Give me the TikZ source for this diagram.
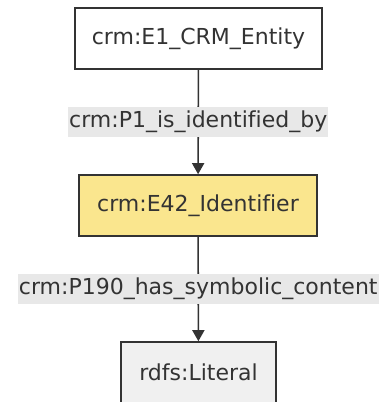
\documentclass[tikz,border=0pt]{standalone}
\usepackage{fontspec}
\setmainfont[Ligatures={NoCommon}]{DejaVu Sans}
\usetikzlibrary{arrows.meta}
\definecolor{txt}{HTML}{333333}
\definecolor{yel}{HTML}{FAE68E}
\definecolor{lit}{HTML}{F0F0F0}
\definecolor{lbl}{HTML}{E8E8E8}
\tikzset{
  box/.style={draw=txt, line width=1.6pt, text=txt, inner sep=0pt, font=\fontsize{22}{26}\selectfont},
  elabel/.style={fill=lbl, text=txt, inner xsep=1pt, inner ysep=0pt, minimum height=30pt, font=\fontsize{22}{26}\selectfont},
  conn/.style={draw=txt, line width=1.6pt, -{Triangle[length=11pt,width=12pt]}}
}
\begin{document}
\begin{tikzpicture}[x=1pt,y=1pt]
\useasboundingbox (0,0) rectangle (383,-402);
\begin{scope}
\clip (0,0) rectangle (383,-402);
\node[box, fill=white, minimum width=247pt, minimum height=61pt] (e1) at (198.5,-38.5) {crm:E1\_CRM\_Entity};
\node[box, fill=yel, minimum width=238pt, minimum height=61pt] (e42) at (198,-205.5) {crm:E42\_Identifier};
\node[box, fill=lit, minimum width=155pt, minimum height=61pt] (lit) at (198.5,-372.5) {rdfs:Literal};
\draw[conn] (e1) -- node[elabel] (l1) {crm:P1\_is\_identified\_by} (e42);
\draw[conn] (e42) -- node[elabel] (l2) {crm:P190\_has\_symbolic\_content} (lit);
\end{scope}
\end{tikzpicture}
\end{document}
